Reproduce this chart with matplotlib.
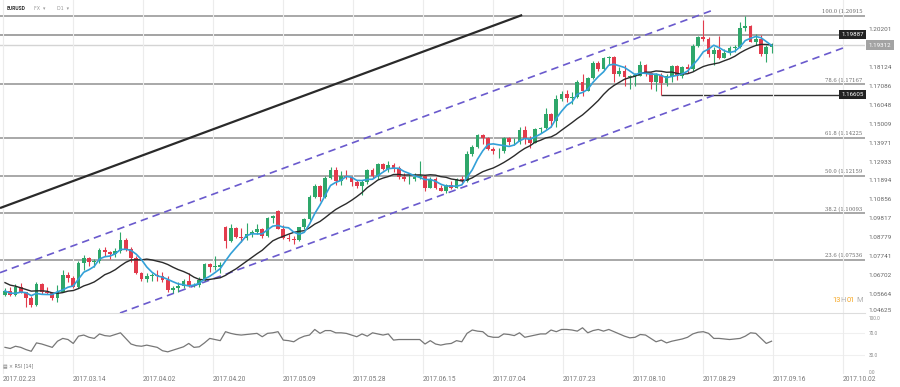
import numpy as np
import pandas as pd
import matplotlib
matplotlib.use("Agg")
import matplotlib.pyplot as plt

plt.rcParams['font.family'] = ['Roboto', 'DejaVu Sans']

# EURUSD daily, 2017-02-23 .. 2017-09-15 (weekday bars)
opens = [1.0560, 1.0585, 1.0560, 1.0605, 1.0575, 1.0545, 1.0505, 1.0620, 1.0580, 1.0570,
         1.0545, 1.0580, 1.0670, 1.0655, 1.0605, 1.0735, 1.0765, 1.0740, 1.0745, 1.0810,
         1.0795, 1.0785, 1.0800, 1.0865, 1.0815, 1.0765, 1.0680, 1.0650, 1.0665, 1.0670,
         1.0665, 1.0645, 1.0590, 1.0600, 1.0610, 1.0640, 1.0615, 1.0615, 1.0645, 1.0730,
         1.0715, 1.0715, 1.0935, 1.0855, 1.0930, 1.0880, 1.0875, 1.0895, 1.0905, 1.0925,
         1.0885, 1.0985, 1.1020, 1.0925, 1.0875, 1.0870, 1.0865, 1.0935, 1.0980, 1.1100,
         1.1160, 1.1100, 1.1205, 1.1245, 1.1185, 1.1215, 1.1210, 1.1180, 1.1160, 1.1180,
         1.1245, 1.1215, 1.1280, 1.1255, 1.1275, 1.1260, 1.1210, 1.1195, 1.1200, 1.1210,
         1.1215, 1.1150, 1.1200, 1.1150, 1.1130, 1.1165, 1.1150, 1.1195, 1.1185, 1.1335,
         1.1375, 1.1440, 1.1425, 1.1360, 1.1350, 1.1350, 1.1420, 1.1400, 1.1400, 1.1465,
         1.1415, 1.1395, 1.1470, 1.1475, 1.1555, 1.1515, 1.1635, 1.1665, 1.1640, 1.1645,
         1.1730, 1.1680, 1.1750, 1.1835, 1.1800, 1.1860, 1.1865, 1.1775, 1.1790, 1.1755,
         1.1765, 1.1765, 1.1820, 1.1780, 1.1730, 1.1770, 1.1725, 1.1760, 1.1815, 1.1760,
         1.1810, 1.1800, 1.1925, 1.1975, 1.1965, 1.1885, 1.1905, 1.1860, 1.1890, 1.1915,
         1.1920, 1.2025, 1.2035, 1.1950, 1.1965, 1.1885, 1.1920]
highs = [1.0600, 1.0605, 1.0620, 1.0625, 1.0580, 1.0555, 1.0630, 1.0625, 1.0605, 1.0580,
         1.0615, 1.0700, 1.0685, 1.0665, 1.0745, 1.0780, 1.0770, 1.0760, 1.0820, 1.0825,
         1.0800, 1.0820, 1.0905, 1.0875, 1.0825, 1.0775, 1.0690, 1.0680, 1.0680, 1.0700,
         1.0690, 1.0665, 1.0610, 1.0635, 1.0650, 1.0680, 1.0625, 1.0660, 1.0735, 1.0735,
         1.0775, 1.0740, 1.0940, 1.0950, 1.0935, 1.0930, 1.0955, 1.0915, 1.0950, 1.0930,
         1.0990, 1.1000, 1.1025, 1.0945, 1.0895, 1.0885, 1.0935, 1.0985, 1.1110, 1.1170,
         1.1165, 1.1215, 1.1265, 1.1265, 1.1240, 1.1245, 1.1215, 1.1190, 1.1190, 1.1250,
         1.1260, 1.1285, 1.1285, 1.1295, 1.1285, 1.1270, 1.1230, 1.1225, 1.1230, 1.1295,
         1.1220, 1.1210, 1.1210, 1.1165, 1.1170, 1.1185, 1.1205, 1.1215, 1.1350, 1.1385,
         1.1445, 1.1445, 1.1430, 1.1375, 1.1365, 1.1430, 1.1430, 1.1420, 1.1480, 1.1490,
         1.1435, 1.1475, 1.1485, 1.1585, 1.1560, 1.1660, 1.1680, 1.1685, 1.1675, 1.1740,
         1.1775, 1.1755, 1.1845, 1.1845, 1.1865, 1.1870, 1.1870, 1.1810, 1.1825, 1.1770,
         1.1780, 1.1845, 1.1830, 1.1785, 1.1780, 1.1780, 1.1775, 1.1820, 1.1825, 1.1815,
         1.1830, 1.1940, 1.1980, 1.2070, 1.1975, 1.1920, 1.1980, 1.1910, 1.1925, 1.1935,
         1.2060, 1.2092, 1.2040, 1.1995, 1.1985, 1.1935, 1.1945]
lows = [1.0555, 1.0555, 1.0555, 1.0570, 1.0495, 1.0495, 1.0500, 1.0565, 1.0565, 1.0535,
        1.0525, 1.0575, 1.0635, 1.0600, 1.0600, 1.0700, 1.0720, 1.0715, 1.0735, 1.0775,
        1.0760, 1.0770, 1.0790, 1.0805, 1.0740, 1.0675, 1.0640, 1.0630, 1.0640, 1.0640,
        1.0630, 1.0580, 1.0570, 1.0575, 1.0600, 1.0605, 1.0605, 1.0605, 1.0640, 1.0690,
        1.0700, 1.0680, 1.0820, 1.0850, 1.0875, 1.0850, 1.0865, 1.0880, 1.0895, 1.0875,
        1.0880, 1.0955, 1.0925, 1.0870, 1.0860, 1.0840, 1.0860, 1.0925, 1.0975, 1.1095,
        1.1075, 1.1095, 1.1195, 1.1165, 1.1165, 1.1195, 1.1160, 1.1150, 1.1110, 1.1170,
        1.1205, 1.1195, 1.1245, 1.1235, 1.1235, 1.1195, 1.1185, 1.1170, 1.1185, 1.1195,
        1.1130, 1.1150, 1.1140, 1.1130, 1.1120, 1.1145, 1.1150, 1.1175, 1.1180, 1.1325,
        1.1370, 1.1390, 1.1355, 1.1335, 1.1315, 1.1340, 1.1385, 1.1385, 1.1390, 1.1390,
        1.1370, 1.1395, 1.1450, 1.1470, 1.1480, 1.1480, 1.1625, 1.1620, 1.1610, 1.1640,
        1.1650, 1.1680, 1.1745, 1.1790, 1.1795, 1.1825, 1.1730, 1.1765, 1.1710, 1.1690,
        1.1710, 1.1765, 1.1765, 1.1690, 1.1680, 1.1660, 1.1710, 1.1730, 1.1740, 1.1750,
        1.1780, 1.1790, 1.1920, 1.1955, 1.1865, 1.1825, 1.1855, 1.1860, 1.1880, 1.1895,
        1.1915, 1.2010, 1.1950, 1.1935, 1.1870, 1.1838, 1.1890]
closes = [1.0585, 1.0560, 1.0605, 1.0575, 1.0545, 1.0505, 1.0620, 1.0580, 1.0570, 1.0545,
          1.0580, 1.0670, 1.0655, 1.0605, 1.0735, 1.0765, 1.0740, 1.0745, 1.0810, 1.0795,
          1.0785, 1.0800, 1.0865, 1.0815, 1.0765, 1.0680, 1.0650, 1.0665, 1.0670, 1.0665,
          1.0645, 1.0590, 1.0600, 1.0610, 1.0640, 1.0615, 1.0615, 1.0645, 1.0730, 1.0715,
          1.0715, 1.0725, 1.0855, 1.0930, 1.0880, 1.0875, 1.0895, 1.0905, 1.0925, 1.0885,
          1.0985, 1.0995, 1.0925, 1.0875, 1.0870, 1.0865, 1.0935, 1.0980, 1.1100, 1.1160,
          1.1100, 1.1205, 1.1245, 1.1185, 1.1215, 1.1210, 1.1180, 1.1160, 1.1180, 1.1245,
          1.1215, 1.1280, 1.1255, 1.1275, 1.1260, 1.1210, 1.1195, 1.1200, 1.1210, 1.1215,
          1.1150, 1.1200, 1.1150, 1.1130, 1.1165, 1.1150, 1.1195, 1.1185, 1.1335, 1.1375,
          1.1440, 1.1425, 1.1360, 1.1350, 1.1350, 1.1420, 1.1400, 1.1400, 1.1465, 1.1415,
          1.1395, 1.1470, 1.1475, 1.1555, 1.1515, 1.1635, 1.1665, 1.1640, 1.1645, 1.1730,
          1.1680, 1.1750, 1.1835, 1.1800, 1.1860, 1.1865, 1.1775, 1.1790, 1.1755, 1.1765,
          1.1765, 1.1820, 1.1780, 1.1730, 1.1770, 1.1725, 1.1760, 1.1815, 1.1760, 1.1810,
          1.1800, 1.1925, 1.1975, 1.1965, 1.1885, 1.1905, 1.1860, 1.1890, 1.1915, 1.1920,
          1.2025, 1.2035, 1.1950, 1.1965, 1.1885, 1.1920, 1.19312]
# closes before the first bar, only to start the moving averages
warmup_closes = [1.0750, 1.0685, 1.0700, 1.0665, 1.0640, 1.0600, 1.0575, 1.0605, 1.0670,
                 1.0615, 1.0615, 1.0540, 1.0560]

rsi = [44, 42, 46, 44, 40, 37, 52, 50, 47, 44, 55, 60, 58, 51, 64, 66, 62, 60, 68, 65,
       64, 67, 70, 60, 50, 47, 46, 48, 46, 44, 38, 36, 39, 42, 45, 51, 44, 45, 52, 60,
       58, 56, 72, 69, 67, 66, 67, 68, 69, 63, 69, 70, 72, 57, 56, 54, 60, 64, 66, 76,
       69, 74, 74, 70, 70, 69, 66, 63, 68, 64, 70, 68, 66, 68, 57, 58, 58, 58, 58, 58,
       50, 56, 50, 48, 50, 51, 56, 54, 69, 75, 73, 72, 64, 62, 62, 68, 67, 65, 70, 62,
       64, 66, 68, 68, 75, 72, 76, 76, 75, 73, 79, 70, 74, 76, 73, 76, 72, 68, 64, 61,
       62, 67, 66, 60, 54, 57, 52, 55, 57, 59, 62, 68, 71, 72, 69, 60, 60, 59, 58, 59,
       60, 64, 70, 69, 60, 51, 55]

date_labels = ['2017.02.23', '2017.03.14', '2017.04.02', '2017.04.20', '2017.05.09',
               '2017.05.28', '2017.06.15', '2017.07.04', '2017.07.23', '2017.08.10',
               '2017.08.29', '2017.09.16', '2017.10.02']
# 1.19163 sits under the current-price box, so it is not listed
price_ticks = [1.04625, 1.05664, 1.06702, 1.07741, 1.08779, 1.09817, 1.10856, 1.11894,
               1.12933, 1.13971, 1.15009, 1.16048, 1.17086, 1.18124, 1.20201]
fib_pcts = [100.0, 78.6, 61.8, 50.0, 38.2, 23.6]
fib_prices = [1.20915, 1.17167, 1.14225, 1.12159, 1.10093, 1.07536]
level_mark = 1.19887
low_mark = 1.16605
low_mark_bar = 125

# drawn trend lines, (bar, price) anchors
trend_x, trend_y = [-0.95, 98.5], [1.10381, 1.20969]
chan_up_x, chan_up_y = [-0.95, 134.9], [1.06837, 1.21243]
chan_lo_x, chan_lo_y = [21.9, 159.6], [1.04625, 1.19159]

o = np.array(opens); h = np.array(highs); l = np.array(lows); c = np.array(closes)
x = np.arange(len(c))
allc = pd.Series(warmup_closes + closes)
ma_fast = allc.rolling(5).mean().iloc[len(warmup_closes):].values
ma_slow = allc.rolling(14).mean().iloc[len(warmup_closes):].values

W, H = 900, 387
fig = plt.figure(figsize=(9, 3.87), dpi=100)
ax = fig.add_axes([0, 1 - 313 / H, 865 / W, 313 / H])
axr = fig.add_axes([0, 1 - 374 / H, 865 / W, 61 / H], sharex=ax)

green, red = '#2ea76a', '#e23b4c'
cols = np.where(c >= o, green, red)

# horizontal levels
for pct, p in zip(fib_pcts, fib_prices):
    ax.axhline(p, color='#9a9a9a', lw=1.2, zorder=1)
    ax.annotate(f'{pct:.1f} ({p:.5f}', (163.3, p), xytext=(0, 1.2), textcoords='offset points',
                ha='right', va='bottom', fontsize=3.8, color='#666', family='DejaVu Serif')
ax.axhline(level_mark, color='#8a8a8a', lw=1.1, zorder=1)
ax.axhline(c[-1], color='#d4d4d4', lw=1.0, zorder=1)
ax.hlines(low_mark, low_mark_bar, 163.8, color='#333', lw=1.0, zorder=1)

# trend lines
ax.plot(trend_x, trend_y, color='#2a2a2a', lw=1.6, zorder=2, solid_capstyle='butt')
for xs, ys in [(chan_up_x, chan_up_y), (chan_lo_x, chan_lo_y)]:
    ax.plot(xs, ys, color='#6a5acd', lw=1.2, dashes=(4.5, 3), zorder=2)

# candles
ax.vlines(x, l, h, color=cols, lw=0.8, zorder=3)
body = np.maximum(np.abs(c - o), 0.0003)
ax.bar(x, body, bottom=np.minimum(o, c), width=0.74, color=cols, lw=0, zorder=4)

ax.plot(x, ma_slow, color='#2b2b2b', lw=1.0, zorder=5)
ax.plot(x, ma_fast, color='#33a0d8', lw=1.2, zorder=5)

ax.set_xlim(-0.95, 163.8)
ax.set_ylim(1.04625, 1.21792)
for s in ax.spines.values():
    s.set_visible(False)
ax.yaxis.tick_right()
ax.set_yticks(price_ticks)
ax.set_yticklabels([f'{p:.5f}' for p in price_ticks])
ax.tick_params(axis='y', length=0, pad=2.5, labelsize=4.6, labelcolor='#666')
ax.get_yticklabels()[0].set_va('bottom')
ax.tick_params(axis='x', bottom=False, labelbottom=False)
ax.grid(axis='x', color='#ececec', lw=0.8, zorder=0)

# price boxes
box_kw = dict(fontsize=4.4, color='white', va='center', zorder=10)
ax.text(163.6, level_mark, f'{level_mark:.5f}', ha='right',
        bbox=dict(boxstyle='square,pad=0.35', fc='#222', ec='none'), **box_kw)
ax.text(163.6, low_mark, f'{low_mark:.5f}', ha='right',
        bbox=dict(boxstyle='square,pad=0.35', fc='#222', ec='none'), **box_kw)
ax.text(1.004, c[-1], f'{c[-1]:.5f}', ha='left', transform=ax.get_yaxis_transform(),
        clip_on=False, bbox=dict(boxstyle='square,pad=0.45', fc='#a3a3a3', ec='none'), **box_kw)

# RSI panel
axr.plot(x, rsi, color='#777', lw=0.9)
for lv in (30, 70):
    axr.axhline(lv, color='#f0f0f0', lw=0.8, zorder=0)
axr.set_ylim(-3.6, 105.4)
for k, s in axr.spines.items():
    s.set_visible(k == 'top')
axr.spines['top'].set_color('#dddddd')
axr.spines['top'].set_linewidth(0.8)
axr.yaxis.tick_right()
axr.set_yticks([0, 30, 70, 100])
axr.set_yticklabels(['0.0', '30.0', '70.0', '100.0'])
axr.tick_params(axis='y', length=0, pad=2.5, labelsize=3.4, labelcolor='#888')
axr.get_yticklabels()[-1].set_va('top')
tick_pos = np.arange(len(date_labels)) * 13.33 - 0.4
axr.set_xticks(tick_pos)
axr.set_xticklabels(date_labels, ha='left')
axr.tick_params(axis='x', length=0, pad=1.5, labelsize=4.8, labelcolor='#777')
axr.grid(axis='x', color='#ececec', lw=0.8, zorder=0)
axr.text(0.004, 0.13, '▤ × RSI [14]', transform=axr.transAxes, fontsize=3.4,
         color='#777', family=['DejaVu Sans'], va='center')

# header and countdown
fig.text(7 / W, 1 - 9 / H, 'EURUSD', fontsize=3.6, weight='bold', color='#333', va='center')
fig.text(34 / W, 1 - 9 / H, 'FX  ▾', fontsize=3.4, color='#999', va='center',
         family=['DejaVu Sans'])
fig.text(57 / W, 1 - 9 / H, 'D1  ▾', fontsize=3.4, color='#999', va='center',
         family=['DejaVu Sans'])
for txt, px, col in [('13', 832, '#f5a623'), ('H', 840, '#b0b0b0'),
                     ('01', 847, '#f5a623'), ('M', 856, '#b0b0b0')]:
    fig.text(px / W, 1 - 300 / H, txt, fontsize=5.4, color=col, va='center')

fig.savefig('out.png', dpi=100, facecolor='white')
